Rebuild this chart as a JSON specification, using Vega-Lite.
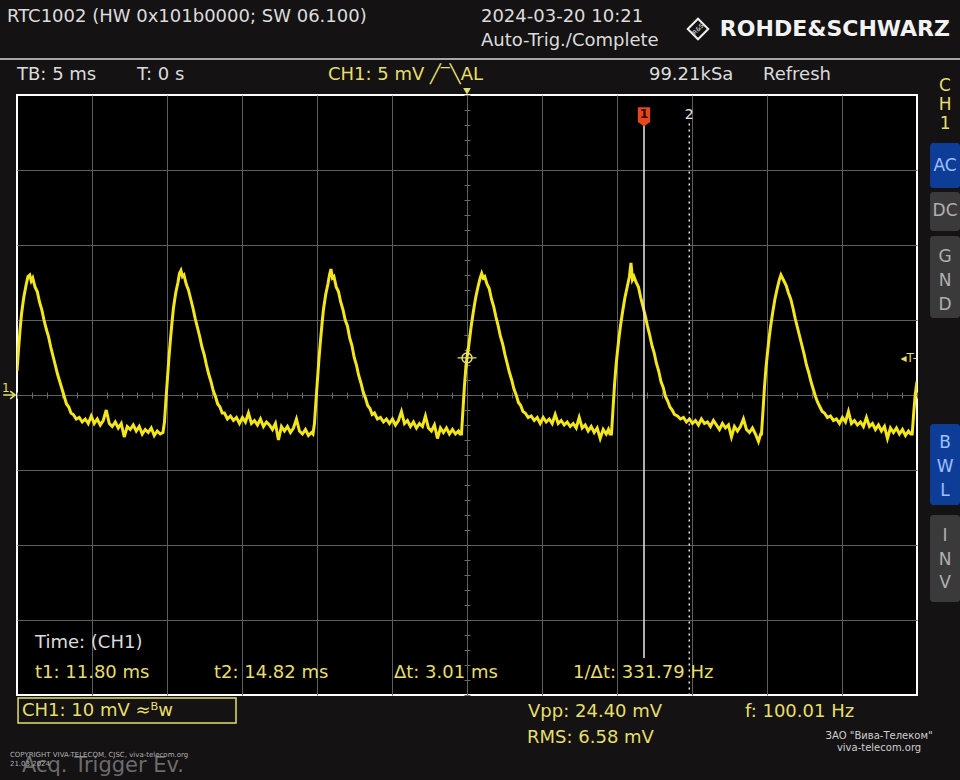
{
  "$schema": "https://vega.github.io/schema/vega-lite/v6.json",
  "width": 900,
  "height": 600,
  "autosize": "none",
  "padding": {"left": 17, "top": 95, "right": 43, "bottom": 85},
  "background": "#141213",
  "config": {
    "view": {"fill": "#000000", "stroke": "#ffffff", "strokeWidth": 2},
    "font": "DejaVu Sans",
    "axis": {"labels": false, "ticks": false, "domain": false, "grid": false, "titleOpacity": 0}
  },
  "resolve": {"axis": {"x": "independent", "y": "independent"}},
  "datasets": {
    "one": [{}],
    "trace": [
      {"t":-30.00,"v":1.6},{"t":-29.90,"v":3.0},{"t":-29.80,"v":4.3},{"t":-29.70,"v":5.4},{"t":-29.55,"v":6.5},{"t":-29.40,"v":7.3},{"t":-29.27,"v":7.9},{"t":-29.15,"v":8.0},{"t":-29.05,"v":7.6},{"t":-28.95,"v":7.8},{"t":-28.80,"v":7.2},{"t":-28.65,"v":6.9},{"t":-28.50,"v":6.2},{"t":-28.35,"v":5.7},{"t":-28.20,"v":5.0},{"t":-28.05,"v":4.4},{"t":-27.90,"v":3.9},{"t":-27.75,"v":3.2},{"t":-27.60,"v":2.6},{"t":-27.45,"v":2.0},{"t":-27.30,"v":1.4},{"t":-27.15,"v":0.9},{"t":-27.00,"v":0.4},{"t":-26.85,"v":-0.1},{"t":-26.70,"v":-0.6},{"t":-26.55,"v":-0.8},{"t":-26.40,"v":-1.2},{"t":-26.25,"v":-1.3},{"t":-26.05,"v":-1.6},{"t":-25.85,"v":-1.5},{"t":-25.65,"v":-1.8},{"t":-25.45,"v":-1.6},
      {"t":-25.25,"v":-1.9},{"t":-25.05,"v":-1.4},{"t":-24.85,"v":-1.9},{"t":-24.65,"v":-1.6},{"t":-24.45,"v":-2.0},{"t":-24.25,"v":-1.7},{"t":-24.05,"v":-1.0},{"t":-23.85,"v":-1.9},{"t":-23.65,"v":-2.1},{"t":-23.45,"v":-1.8},{"t":-23.25,"v":-2.2},{"t":-23.05,"v":-1.9},{"t":-22.85,"v":-2.8},{"t":-22.65,"v":-2.1},{"t":-22.45,"v":-2.3},{"t":-22.25,"v":-2.0},{"t":-22.05,"v":-2.4},{"t":-21.85,"v":-2.1},{"t":-21.65,"v":-2.6},{"t":-21.45,"v":-2.3},{"t":-21.25,"v":-2.5},{"t":-21.05,"v":-2.2},{"t":-20.85,"v":-2.7},{"t":-20.65,"v":-2.4},{"t":-20.45,"v":-2.6},
      {"t":-20.27,"v":-2.5},{"t":-20.17,"v":-1.8},{"t":-20.07,"v":-0.3},{"t":-19.97,"v":1.1},{"t":-19.87,"v":2.5},{"t":-19.77,"v":3.7},{"t":-19.67,"v":4.8},{"t":-19.57,"v":5.8},{"t":-19.42,"v":6.8},{"t":-19.27,"v":7.5},{"t":-19.17,"v":8.1},{"t":-19.07,"v":8.3},{"t":-18.97,"v":7.9},{"t":-18.87,"v":8.0},{"t":-18.72,"v":7.4},{"t":-18.57,"v":7.0},{"t":-18.42,"v":6.4},{"t":-18.27,"v":5.8},{"t":-18.12,"v":5.1},{"t":-17.97,"v":4.5},{"t":-17.82,"v":3.9},{"t":-17.67,"v":3.2},{"t":-17.52,"v":2.7},{"t":-17.37,"v":2.0},{"t":-17.22,"v":1.4},{"t":-17.07,"v":0.9},{"t":-16.92,"v":0.3},{"t":-16.77,"v":-0.1},{"t":-16.62,"v":-0.6},{"t":-16.47,"v":-0.8},{"t":-16.32,"v":-1.2},{"t":-16.17,"v":-1.2},{"t":-15.97,"v":-1.6},{"t":-15.77,"v":-1.4},{"t":-15.57,"v":-1.7},{"t":-15.37,"v":-1.5},
      {"t":-15.17,"v":-1.9},{"t":-14.97,"v":-1.5},{"t":-14.77,"v":-1.8},{"t":-14.57,"v":-1.2},{"t":-14.37,"v":-1.9},{"t":-14.17,"v":-1.7},{"t":-13.97,"v":-2.0},{"t":-13.77,"v":-1.6},{"t":-13.57,"v":-2.1},{"t":-13.37,"v":-1.8},{"t":-13.17,"v":-2.0},{"t":-12.97,"v":-2.3},{"t":-12.77,"v":-1.9},{"t":-12.57,"v":-3.0},{"t":-12.37,"v":-2.1},{"t":-12.17,"v":-2.4},{"t":-11.97,"v":-2.1},{"t":-11.77,"v":-2.5},{"t":-11.57,"v":-2.2},{"t":-11.37,"v":-1.6},{"t":-11.17,"v":-2.4},{"t":-10.97,"v":-2.6},{"t":-10.77,"v":-2.3},{"t":-10.57,"v":-2.7},{"t":-10.37,"v":-2.5},
      {"t":-10.27,"v":-2.6},{"t":-10.17,"v":-1.9},{"t":-10.07,"v":-0.4},{"t":-9.97,"v":1.0},{"t":-9.87,"v":2.4},{"t":-9.77,"v":3.6},{"t":-9.67,"v":4.7},{"t":-9.57,"v":5.7},{"t":-9.42,"v":6.7},{"t":-9.27,"v":7.4},{"t":-9.17,"v":8.0},{"t":-9.07,"v":8.4},{"t":-8.97,"v":7.8},{"t":-8.87,"v":7.9},{"t":-8.72,"v":7.2},{"t":-8.57,"v":6.9},{"t":-8.42,"v":6.2},{"t":-8.27,"v":5.7},{"t":-8.12,"v":5.0},{"t":-7.97,"v":4.6},{"t":-7.82,"v":3.8},{"t":-7.67,"v":3.3},{"t":-7.52,"v":2.5},{"t":-7.37,"v":2.0},{"t":-7.22,"v":1.3},{"t":-7.07,"v":0.8},{"t":-6.92,"v":0.2},{"t":-6.77,"v":-0.2},{"t":-6.62,"v":-0.7},{"t":-6.47,"v":-0.9},{"t":-6.32,"v":-1.3},{"t":-6.17,"v":-1.2},{"t":-5.97,"v":-1.6},{"t":-5.77,"v":-1.5},{"t":-5.57,"v":-1.8},{"t":-5.37,"v":-1.6},
      {"t":-5.17,"v":-1.9},{"t":-4.97,"v":-1.6},{"t":-4.77,"v":-2.0},{"t":-4.57,"v":-1.7},{"t":-4.37,"v":-1.1},{"t":-4.17,"v":-1.9},{"t":-3.97,"v":-1.7},{"t":-3.77,"v":-2.1},{"t":-3.57,"v":-1.8},{"t":-3.37,"v":-2.2},{"t":-3.17,"v":-1.9},{"t":-2.97,"v":-2.1},{"t":-2.77,"v":-1.4},{"t":-2.57,"v":-2.2},{"t":-2.37,"v":-2.4},{"t":-2.17,"v":-2.0},{"t":-1.97,"v":-2.9},{"t":-1.77,"v":-2.2},{"t":-1.57,"v":-2.5},{"t":-1.37,"v":-2.2},{"t":-1.17,"v":-2.6},{"t":-0.97,"v":-2.3},{"t":-0.77,"v":-2.6},{"t":-0.57,"v":-2.4},{"t":-0.47,"v":-2.6},
      {"t":-0.37,"v":-2.6},{"t":-0.27,"v":-1.0},{"t":-0.17,"v":0.6},{"t":-0.07,"v":1.9},{"t":0.00,"v":2.5},{"t":0.08,"v":3.0},{"t":0.18,"v":3.8},{"t":0.28,"v":4.6},{"t":0.43,"v":5.6},{"t":0.58,"v":6.5},{"t":0.73,"v":7.2},{"t":0.88,"v":7.8},{"t":0.98,"v":8.1},{"t":1.08,"v":7.8},{"t":1.18,"v":7.9},{"t":1.33,"v":7.4},{"t":1.48,"v":7.1},{"t":1.63,"v":6.4},{"t":1.78,"v":5.9},{"t":1.93,"v":5.2},{"t":2.08,"v":4.6},{"t":2.23,"v":3.9},{"t":2.38,"v":3.4},{"t":2.53,"v":2.7},{"t":2.68,"v":2.1},{"t":2.83,"v":1.5},{"t":2.98,"v":1.0},{"t":3.13,"v":0.4},{"t":3.28,"v":0.0},{"t":3.43,"v":-0.5},{"t":3.58,"v":-0.7},{"t":3.73,"v":-1.1},{"t":3.88,"v":-1.2},{"t":4.08,"v":-1.5},{"t":4.28,"v":-1.4},{"t":4.48,"v":-1.7},{"t":4.68,"v":-1.5},
      {"t":4.88,"v":-1.9},{"t":5.08,"v":-1.5},{"t":5.28,"v":-1.8},{"t":5.48,"v":-1.6},{"t":5.68,"v":-1.9},{"t":5.88,"v":-1.3},{"t":6.08,"v":-1.9},{"t":6.28,"v":-1.7},{"t":6.48,"v":-2.0},{"t":6.68,"v":-1.8},{"t":6.88,"v":-2.1},{"t":7.08,"v":-1.9},{"t":7.28,"v":-2.2},{"t":7.48,"v":-1.5},{"t":7.68,"v":-2.2},{"t":7.88,"v":-2.0},{"t":8.08,"v":-2.4},{"t":8.28,"v":-2.1},{"t":8.48,"v":-2.5},{"t":8.68,"v":-2.2},{"t":8.88,"v":-2.9},{"t":9.08,"v":-2.3},{"t":9.28,"v":-2.6},{"t":9.43,"v":-2.3},{"t":9.53,"v":-2.6},
      {"t":9.63,"v":-2.6},{"t":9.73,"v":-1.0},{"t":9.83,"v":0.6},{"t":9.93,"v":1.9},{"t":10.03,"v":2.9},{"t":10.13,"v":3.8},{"t":10.23,"v":4.6},{"t":10.38,"v":5.6},{"t":10.53,"v":6.5},{"t":10.68,"v":7.2},{"t":10.83,"v":7.9},{"t":10.93,"v":8.8},{"t":11.03,"v":7.7},{"t":11.13,"v":7.9},{"t":11.28,"v":7.5},{"t":11.43,"v":7.2},{"t":11.58,"v":6.5},{"t":11.73,"v":5.9},{"t":11.88,"v":5.3},{"t":12.03,"v":4.6},{"t":12.18,"v":4.0},{"t":12.33,"v":3.3},{"t":12.48,"v":2.8},{"t":12.63,"v":2.1},{"t":12.78,"v":1.6},{"t":12.93,"v":0.9},{"t":13.08,"v":0.5},{"t":13.23,"v":-0.1},{"t":13.38,"v":-0.4},{"t":13.53,"v":-0.8},{"t":13.68,"v":-1.0},{"t":13.83,"v":-1.3},{"t":14.03,"v":-1.4},{"t":14.23,"v":-1.6},{"t":14.43,"v":-1.5},{"t":14.63,"v":-1.8},
      {"t":14.83,"v":-1.6},{"t":15.03,"v":-1.9},{"t":15.23,"v":-1.7},{"t":15.43,"v":-2.0},{"t":15.63,"v":-1.6},{"t":15.83,"v":-1.9},{"t":16.03,"v":-1.8},{"t":16.23,"v":-2.1},{"t":16.43,"v":-1.7},{"t":16.63,"v":-2.0},{"t":16.83,"v":-2.3},{"t":17.03,"v":-1.9},{"t":17.23,"v":-2.2},{"t":17.43,"v":-2.0},{"t":17.63,"v":-2.8},{"t":17.83,"v":-2.1},{"t":18.03,"v":-2.4},{"t":18.23,"v":-2.1},{"t":18.43,"v":-1.6},{"t":18.63,"v":-2.3},{"t":18.83,"v":-2.5},{"t":19.03,"v":-2.2},{"t":19.23,"v":-2.6},{"t":19.43,"v":-3.1},{"t":19.58,"v":-2.6},
      {"t":19.63,"v":-2.6},{"t":19.73,"v":-1.1},{"t":19.83,"v":0.5},{"t":19.93,"v":1.8},{"t":20.03,"v":2.8},{"t":20.13,"v":3.7},{"t":20.23,"v":4.5},{"t":20.38,"v":5.5},{"t":20.53,"v":6.4},{"t":20.68,"v":7.1},{"t":20.83,"v":7.7},{"t":20.93,"v":8.0},{"t":21.03,"v":7.8},{"t":21.13,"v":7.6},{"t":21.28,"v":7.3},{"t":21.43,"v":6.8},{"t":21.58,"v":6.4},{"t":21.73,"v":5.8},{"t":21.88,"v":5.1},{"t":22.03,"v":4.5},{"t":22.18,"v":3.9},{"t":22.33,"v":3.3},{"t":22.48,"v":2.7},{"t":22.63,"v":2.0},{"t":22.78,"v":1.5},{"t":22.93,"v":0.9},{"t":23.08,"v":0.4},{"t":23.23,"v":-0.1},{"t":23.38,"v":-0.5},{"t":23.53,"v":-0.8},{"t":23.68,"v":-1.1},{"t":23.83,"v":-1.2},{"t":24.03,"v":-1.5},{"t":24.23,"v":-1.4},{"t":24.43,"v":-1.7},{"t":24.63,"v":-1.6},
      {"t":24.83,"v":-1.9},{"t":25.03,"v":-1.5},{"t":25.23,"v":-1.8},{"t":25.43,"v":-1.1},{"t":25.63,"v":-1.9},{"t":25.83,"v":-1.7},{"t":26.03,"v":-2.0},{"t":26.23,"v":-1.8},{"t":26.43,"v":-2.1},{"t":26.63,"v":-1.5},{"t":26.83,"v":-2.1},{"t":27.03,"v":-1.9},{"t":27.23,"v":-2.3},{"t":27.43,"v":-2.0},{"t":27.63,"v":-2.4},{"t":27.83,"v":-2.1},{"t":28.03,"v":-2.9},{"t":28.23,"v":-2.2},{"t":28.43,"v":-2.5},{"t":28.63,"v":-2.2},{"t":28.83,"v":-2.6},{"t":29.03,"v":-2.3},{"t":29.23,"v":-2.7},{"t":29.43,"v":-2.4},{"t":29.58,"v":-2.6},
      {"t":29.68,"v":-2.6},{"t":29.78,"v":-1.2},{"t":29.88,"v":0.0},{"t":30.00,"v":0.9}
    ],
    "txt": [
      {"label":"RTC1002 (HW 0x101b0000; SW 06.100)","t":-30.67,"v":25.2,"grp":"w"},
      {"label":"2024-03-20 10:21","t":0.93,"v":25.2,"grp":"w"},
      {"label":"Auto-Trig./Complete","t":0.93,"v":23.6,"grp":"w"},
      {"label":"TB: 5 ms","t":-30.0,"v":21.33,"grp":"w"},
      {"label":"T: 0 s","t":-22.0,"v":21.33,"grp":"w"},
      {"label":"CH1: 5 mV ╱‾╲AL","t":-9.27,"v":21.33,"grp":"y"},
      {"label":"99.21kSa","t":12.13,"v":21.33,"grp":"w"},
      {"label":"Refresh","t":19.73,"v":21.33,"grp":"w"},
      {"label":"Time: (CH1)","t":-28.8,"v":-16.53,"grp":"w"},
      {"label":"t1: 11.80 ms","t":-28.8,"v":-18.53,"grp":"y"},
      {"label":"t2: 14.82 ms","t":-16.87,"v":-18.53,"grp":"y"},
      {"label":"Δt: 3.01 ms","t":-4.87,"v":-18.53,"grp":"y"},
      {"label":"1/Δt: 331.79 Hz","t":7.07,"v":-18.53,"grp":"y"},
      {"label":"CH1: 10 mV ≈ᴮw","t":-29.67,"v":-21.07,"grp":"y"},
      {"label":"Vpp: 24.40 mV","t":4.07,"v":-21.13,"grp":"y"},
      {"label":"RMS: 6.58 mV","t":4.0,"v":-22.87,"grp":"y"},
      {"label":"f: 100.01 Hz","t":18.53,"v":-21.13,"grp":"y"}
    ],
    "txtc": [
      {"label":"C","t":31.87,"v":20.6,"grp":"y"},
      {"label":"H","t":31.87,"v":19.33,"grp":"y"},
      {"label":"1","t":31.87,"v":18.07,"grp":"y"},
      {"label":"AC","t":31.87,"v":15.27,"grp":"bon"},
      {"label":"DC","t":31.87,"v":12.27,"grp":"boff"},
      {"label":"G","t":31.87,"v":9.2,"grp":"boff"},
      {"label":"N","t":31.87,"v":7.6,"grp":"boff"},
      {"label":"D","t":31.87,"v":6.0,"grp":"boff"},
      {"label":"B","t":31.87,"v":-3.2,"grp":"bon"},
      {"label":"W","t":31.87,"v":-4.8,"grp":"bon"},
      {"label":"L","t":31.87,"v":-6.4,"grp":"bon"},
      {"label":"I","t":31.87,"v":-9.4,"grp":"boff"},
      {"label":"N","t":31.87,"v":-11.0,"grp":"boff"},
      {"label":"V","t":31.87,"v":-12.53,"grp":"boff"}
    ],
    "buttons": [
      {"t1":30.87,"t2":32.87,"v1":16.8,"v2":13.8,"state":"on"},
      {"t1":30.87,"t2":32.87,"v1":13.53,"v2":10.93,"state":"off"},
      {"t1":30.87,"t2":32.87,"v1":10.6,"v2":5.13,"state":"off"},
      {"t1":30.87,"t2":32.87,"v1":-1.93,"v2":-7.33,"state":"on"},
      {"t1":30.87,"t2":32.87,"v1":-8.0,"v2":-13.8,"state":"off"}
    ]
  },
  "layer": [
    {
      "data": {"name": "trace"},
      "mark": {"type": "line", "color": "#f4e61c", "strokeWidth": 3, "clip": true},
      "encoding": {
        "x": {"field": "t", "type": "quantitative", "scale": {"domain": [-30, 30], "nice": false, "zero": false},
              "axis": {"orient": "bottom", "grid": true, "gridColor": "#5e5e5e", "gridWidth": 1, "values": [-25,-20,-15,-10,-5,0,5,10,15,20,25], "labels": false, "ticks": false, "domain": false, "title": null}},
        "y": {"field": "v", "type": "quantitative", "scale": {"domain": [-20, 20], "nice": false, "zero": false},
              "axis": {"orient": "left", "grid": true, "gridColor": "#5e5e5e", "gridWidth": 1, "values": [-15,-10,-5,0,5,10,15], "labels": false, "ticks": false, "domain": false, "title": null}}
      }
    },
    {
      "data": {"name": "one"},
      "mark": {"type": "point", "opacity": 0},
      "encoding": {
        "x": {"datum": 0, "type": "quantitative", "axis": {"orient": "bottom", "offset": -300, "tickCount": 60, "ticks": true, "tickSize": 3, "tickColor": "#6a6a6a", "labels": false, "domain": false, "grid": false, "title": null}},
        "y": {"datum": 0, "type": "quantitative", "axis": {"orient": "left", "offset": -450, "tickCount": 40, "ticks": true, "tickSize": 3, "tickColor": "#6a6a6a", "labels": false, "domain": false, "grid": false, "title": null}}
      }
    },
    {
      "data": {"name": "one"},
      "mark": {"type": "point", "opacity": 0},
      "encoding": {
        "x": {"datum": 0, "type": "quantitative", "axis": {"orient": "top", "offset": -300, "tickCount": 60, "ticks": true, "tickSize": 3, "tickColor": "#6a6a6a", "labels": false, "domain": false, "grid": false, "title": null}},
        "y": {"datum": 0, "type": "quantitative", "axis": {"orient": "right", "offset": -450, "tickCount": 40, "ticks": true, "tickSize": 3, "tickColor": "#6a6a6a", "labels": false, "domain": false, "grid": false, "title": null}}
      }
    },
    {
      "data": {"name": "one"},
      "mark": {"type": "rule", "color": "#d8d8d8", "strokeWidth": 1.5, "clip": false},
      "encoding": {"x": {"datum": -31.2, "type": "quantitative", "axis": null}, "x2": {"datum": 32.9}, "y": {"datum": 22.4, "type": "quantitative", "axis": null}}
    },
    {
      "data": {"name": "buttons"},
      "mark": {"type": "rect", "cornerRadius": 3, "clip": false},
      "encoding": {
        "x": {"field": "t1", "type": "quantitative", "axis": null}, "x2": {"field": "t2"},
        "y": {"field": "v1", "type": "quantitative", "axis": null}, "y2": {"field": "v2"},
        "fill": {"field": "state", "type": "nominal", "scale": {"domain": ["on", "off"], "range": ["#0e3d98", "#3a3a3a"]}, "legend": null}
      }
    },
    {
      "data": {"name": "one"},
      "mark": {"type": "rect", "filled": false, "stroke": "#e6df6a", "strokeWidth": 1.5, "clip": false},
      "encoding": {"x": {"datum": -29.93, "type": "quantitative", "axis": null}, "x2": {"datum": -15.4}, "y": {"datum": -20.2, "type": "quantitative", "axis": null}, "y2": {"datum": -21.87}}
    },
    {
      "data": {"name": "one"},
      "mark": {"type": "rule", "color": "#e8e8e8", "strokeWidth": 1.5},
      "encoding": {"x": {"datum": 11.8, "type": "quantitative", "axis": null}, "y": {"datum": 18.0, "type": "quantitative", "axis": null}, "y2": {"datum": -17.53}}
    },
    {
      "data": {"name": "one"},
      "mark": {"type": "rule", "color": "#e8e8e8", "strokeWidth": 1.5, "strokeDash": [2, 4]},
      "encoding": {"x": {"datum": 14.82, "type": "quantitative", "axis": null}, "y": {"datum": 18.1, "type": "quantitative", "axis": null}, "y2": {"datum": -20}}
    },
    {
      "data": {"name": "one"},
      "mark": {"type": "point", "shape": "M-0.65,-1H0.65V0.55L0,1L-0.65,0.55Z", "filled": true, "fill": "#e5481d", "opacity": 1, "size": 360},
      "encoding": {"x": {"datum": 11.8, "type": "quantitative", "axis": null}, "y": {"datum": 18.55, "type": "quantitative", "axis": null}}
    },
    {
      "data": {"name": "one"},
      "mark": {"type": "text", "text": "1", "color": "#3a0800", "fontSize": 13, "fontWeight": "bold", "align": "center", "baseline": "middle"},
      "encoding": {"x": {"datum": 11.8, "type": "quantitative", "axis": null}, "y": {"datum": 18.75, "type": "quantitative", "axis": null}}
    },
    {
      "data": {"name": "one"},
      "mark": {"type": "text", "text": "2", "color": "#e8e8e8", "fontSize": 14, "align": "center", "baseline": "middle"},
      "encoding": {"x": {"datum": 14.82, "type": "quantitative", "axis": null}, "y": {"datum": 18.7, "type": "quantitative", "axis": null}}
    },
    {
      "data": {"name": "one"},
      "mark": {"type": "point", "shape": "circle", "filled": false, "stroke": "#e6df6a", "strokeWidth": 1.5, "opacity": 1, "size": 100},
      "encoding": {"x": {"datum": 0, "type": "quantitative", "axis": null}, "y": {"datum": 2.47, "type": "quantitative", "axis": null}}
    },
    {
      "data": {"name": "one"},
      "mark": {"type": "point", "shape": "M-1,0H1M0,-1V1", "filled": false, "stroke": "#e6df6a", "strokeWidth": 1.2, "opacity": 1, "size": 360},
      "encoding": {"x": {"datum": 0, "type": "quantitative", "axis": null}, "y": {"datum": 2.47, "type": "quantitative", "axis": null}}
    },
    {
      "data": {"name": "one"},
      "mark": {"type": "point", "shape": "triangle-down", "filled": true, "fill": "#e6df6a", "opacity": 1, "size": 60, "clip": false},
      "encoding": {"x": {"datum": 0, "type": "quantitative", "axis": null}, "y": {"datum": 20.25, "type": "quantitative", "axis": null}}
    },
    {
      "data": {"name": "one"},
      "mark": {"type": "text", "text": "◂T-", "color": "#e6df6a", "fontSize": 12, "align": "right", "baseline": "middle"},
      "encoding": {"x": {"datum": 30.0, "type": "quantitative", "axis": null}, "y": {"datum": 2.47, "type": "quantitative", "axis": null}}
    },
    {
      "data": {"name": "one"},
      "mark": {"type": "text", "text": "1", "color": "#e6df6a", "fontSize": 12, "align": "center", "baseline": "middle", "clip": false},
      "encoding": {"x": {"datum": -30.75, "type": "quantitative", "axis": null}, "y": {"datum": 0.45, "type": "quantitative", "axis": null}}
    },
    {
      "data": {"name": "one"},
      "mark": {"type": "point", "shape": "M-1,0H0.6M0.1,-0.6L0.9,0L0.1,0.6", "filled": false, "stroke": "#e6df6a", "strokeWidth": 1.6, "opacity": 1, "size": 160, "clip": false},
      "encoding": {"x": {"datum": -30.5, "type": "quantitative", "axis": null}, "y": {"datum": 0, "type": "quantitative", "axis": null}}
    },
    {
      "data": {"name": "one"},
      "mark": {"type": "point", "shape": "diamond", "filled": false, "stroke": "#f0f0f0", "strokeWidth": 2, "opacity": 1, "size": 420, "clip": false},
      "encoding": {"x": {"datum": 15.4, "type": "quantitative", "axis": null}, "y": {"datum": 24.4, "type": "quantitative", "axis": null}}
    },
    {
      "data": {"name": "one"},
      "mark": {"type": "text", "text": "R&S", "color": "#f0f0f0", "fontSize": 6, "align": "center", "baseline": "middle", "angle": 315, "clip": false},
      "encoding": {"x": {"datum": 15.4, "type": "quantitative", "axis": null}, "y": {"datum": 24.4, "type": "quantitative", "axis": null}}
    },
    {
      "data": {"name": "one"},
      "mark": {"type": "text", "text": "ROHDE&SCHWARZ", "color": "#f2f2f2", "fontSize": 22, "fontWeight": "bold", "align": "right", "baseline": "middle", "clip": false},
      "encoding": {"x": {"datum": 32.2, "type": "quantitative", "axis": null}, "y": {"datum": 24.4, "type": "quantitative", "axis": null}}
    },
    {
      "data": {"name": "txt"},
      "mark": {"type": "text", "fontSize": 18, "align": "left", "baseline": "middle", "clip": false},
      "encoding": {
        "x": {"field": "t", "type": "quantitative", "axis": null},
        "y": {"field": "v", "type": "quantitative", "axis": null},
        "text": {"field": "label"},
        "color": {"field": "grp", "type": "nominal", "scale": {"domain": ["w", "y", "bon", "boff"], "range": ["#dcdcdc", "#e6df6a", "#9fc0ff", "#b0b0b0"]}, "legend": null}
      }
    },
    {
      "data": {"name": "txtc"},
      "mark": {"type": "text", "fontSize": 17, "align": "center", "baseline": "middle", "clip": false},
      "encoding": {
        "x": {"field": "t", "type": "quantitative", "axis": null},
        "y": {"field": "v", "type": "quantitative", "axis": null},
        "text": {"field": "label"},
        "color": {"field": "grp", "type": "nominal", "legend": null}
      }
    },
    {
      "data": {"name": "one"},
      "mark": {"type": "text", "text": "Acq. Trigger Ev.", "color": "#6c6c6c", "fontSize": 21, "align": "left", "baseline": "middle", "clip": false},
      "encoding": {"x": {"datum": -29.67, "type": "quantitative", "axis": null}, "y": {"datum": -24.73, "type": "quantitative", "axis": null}}
    },
    {
      "data": {"name": "one"},
      "mark": {"type": "text", "text": ["COPYRIGHT VIVA-TELECOM, CJSC, viva-telecom.org", "21.03.2024"], "color": "#b0b0b0", "fontSize": 7, "lineHeight": 9, "align": "left", "baseline": "top", "clip": false},
      "encoding": {"x": {"datum": -30.47, "type": "quantitative", "axis": null}, "y": {"datum": -23.73, "type": "quantitative", "axis": null}}
    },
    {
      "data": {"name": "one"},
      "mark": {"type": "text", "text": ["ЗАО \"Вива-Телеком\"", "viva-telecom.org"], "color": "#cfcfcf", "fontSize": 10, "lineHeight": 12, "align": "center", "baseline": "top", "clip": false},
      "encoding": {"x": {"datum": 27.47, "type": "quantitative", "axis": null}, "y": {"datum": -22.4, "type": "quantitative", "axis": null}}
    }
  ]
}
